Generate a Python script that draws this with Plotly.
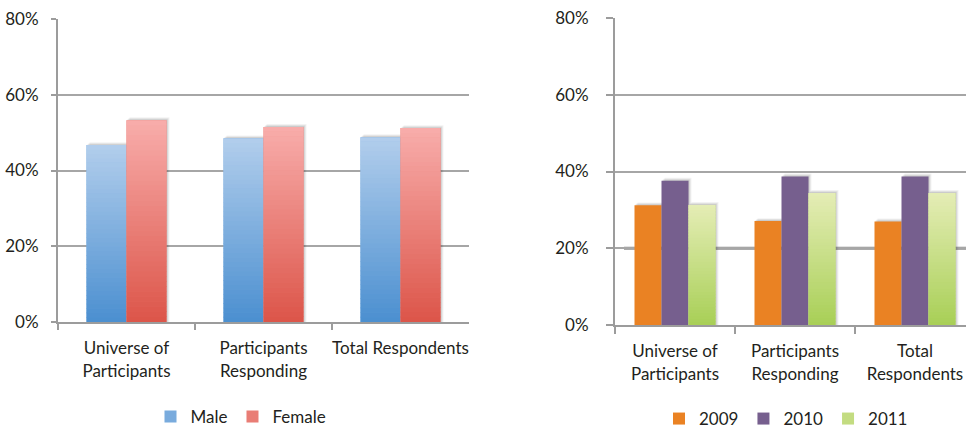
import numpy as np
import plotly.graph_objects as go

# ---- data -------------------------------------------------------------
gender_categories = ["Universe of<br>Participants", "Participants<br>Responding", "Total Respondents"]
male = [46.7, 48.5, 48.8]
female = [53.3, 51.5, 51.2]

year_categories = ["Universe of<br>Participants", "Participants<br>Responding", "Total<br>Respondents"]
y2009 = [31.2, 27.1, 27.0]
y2010 = [37.6, 38.7, 38.7]
y2011 = [31.3, 34.4, 34.4]

y_ticks = [0, 20, 40, 60, 80]
y_tick_labels = ["0%", "20%", "40%", "60%", "80%"]

# ---- styling ----------------------------------------------------------
FONT = "Lato"
TEXT = "#231f20"
AXIS = "#9c9c9c"
GRID = "#a6a6a6"
N_SLICES = 40


def hex_to_rgb(h):
    h = h.lstrip("#")
    return np.array([int(h[i:i + 2], 16) for i in (0, 2, 4)], dtype=float)


def blend(c0, c1, t):
    c = hex_to_rgb(c0) * (1 - t) + hex_to_rgb(c1) * t
    return "rgb({:.0f},{:.0f},{:.0f})".format(*c)


fig = go.Figure()


def drop_shadow(x, values, width, offset, xa, ya, px_per_unit):
    """Soft grey shadow to the right of / above each bar."""
    vals = np.asarray(values, dtype=float)
    for k, alpha in ((3, 0.05), (2, 0.07), (1, 0.09)):
        fig.add_trace(go.Bar(
            x=x, y=vals + 0.25 * k, width=width, offset=offset + k / px_per_unit,
            marker=dict(color=f"rgba(0,0,0,{alpha})", line=dict(width=0)),
            xaxis=xa, yaxis=ya, showlegend=False, hoverinfo="skip",
        ))


def gradient_bar(x, values, name, bottom, top, width, offset, xa, ya, legend):
    """Bar series with a vertical colour gradient, built from stacked slices."""
    vals = np.asarray(values, dtype=float)
    # full-height bar carries the legend entry and hover
    fig.add_trace(go.Bar(
        x=x, y=vals, name=name, width=width, offset=offset,
        marker=dict(color=blend(bottom, top, 0.45), line=dict(width=0)),
        xaxis=xa, yaxis=ya, legend=legend, showlegend=True,
        hovertemplate="%{y:.1f}%<extra>" + name + "</extra>",
    ))
    for i in range(N_SLICES):
        base = vals * i / N_SLICES
        tip = np.minimum(vals * (i + 1) / N_SLICES + 0.15, vals)
        fig.add_trace(go.Bar(
            x=x, y=tip - base, base=base, width=width, offset=offset,
            marker=dict(color=blend(bottom, top, (i + 0.5) / N_SLICES), line=dict(width=0)),
            xaxis=xa, yaxis=ya, showlegend=False, hoverinfo="skip",
        ))


def solid_bar(x, values, name, color, width, offset, xa, ya, legend):
    fig.add_trace(go.Bar(
        x=x, y=values, name=name, width=width, offset=offset,
        marker=dict(color=color, line=dict(width=0)),
        xaxis=xa, yaxis=ya, legend=legend,
        hovertemplate="%{y:.1f}%<extra>" + name + "</extra>",
    ))


# left panel: male / female  (one category = 137 px)
w1 = 0.292
drop_shadow(gender_categories, male, w1, -w1, "x", "y", 137)
drop_shadow(gender_categories, female, w1, 0.0, "x", "y", 137)
gradient_bar(gender_categories, male, "Male", "#4b8fd0", "#b2ceec", w1, -w1, "x", "y", "legend")
gradient_bar(gender_categories, female, "Female", "#dc5549", "#f8adab", w1, 0.0, "x", "y", "legend")

# right panel: survey years  (one category = 120 px)
w2 = 0.225
for vals, off in ((y2009, -1.5 * w2), (y2010, -0.5 * w2), (y2011, 0.5 * w2)):
    drop_shadow(year_categories, vals, w2, off, "x2", "y2", 120)
solid_bar(year_categories, y2009, "2009", "#ea8223", w2, -1.5 * w2, "x2", "y2", "legend2")
solid_bar(year_categories, y2010, "2010", "#765f8e", w2, -0.5 * w2, "x2", "y2", "legend2")
gradient_bar(year_categories, y2011, "2011", "#a8cf56", "#e5edb6", w2, 0.5 * w2, "x2", "y2", "legend2")

# heavier 20% rule on the right panel
fig.add_shape(type="line", xref="x2", yref="y2", x0=-0.425, x1=2.6, y0=20, y1=20,
              line=dict(color="#8e8e8e", width=3), layer="below")

axis_common = dict(
    showline=True, linecolor=AXIS, linewidth=2,
    ticks="outside", tickcolor=AXIS, tickwidth=2, automargin=False,
    tickfont=dict(family=FONT, size=17, color=TEXT),
)

fig.update_layout(
    width=966, height=429,
    margin=dict(l=0, r=0, t=0, b=0, autoexpand=False),
    paper_bgcolor="white", plot_bgcolor="white",
    barmode="overlay",
    font=dict(family=FONT, color=TEXT),
    xaxis=dict(domain=[58 / 966, 469 / 966], anchor="y", tickson="boundaries",
               ticklen=6, showgrid=False, ticklabelstandoff=10, range=[-0.5, 2.5],
               tickangle=0, **axis_common),
    yaxis=dict(domain=[1 - 322 / 429, 1 - 19 / 429], anchor="x", range=[0, 80],
               tickmode="array", tickvals=y_ticks, ticktext=y_tick_labels,
               ticklen=5, ticklabelstandoff=9,
               showgrid=True, gridcolor=GRID, gridwidth=1.5, zeroline=False,
               **axis_common),
    xaxis2=dict(domain=[615 / 966, 1.0], anchor="y2", tickson="boundaries",
                ticklen=7, showgrid=False, ticklabelstandoff=10, range=[-0.5, 2.425],
                tickangle=0, **axis_common),
    yaxis2=dict(domain=[1 - 325 / 429, 1 - 18 / 429], anchor="x2", range=[0, 80],
                tickmode="array", tickvals=y_ticks, ticktext=y_tick_labels,
                ticklen=7, ticklabelstandoff=14,
                showgrid=True, gridcolor=GRID, gridwidth=1.5, zeroline=False,
                **axis_common),
    legend=dict(orientation="h", x=241 / 966, xanchor="center", y=1 - 417 / 429,
                yanchor="middle", font=dict(family=FONT, size=17, color=TEXT),
                bgcolor="rgba(0,0,0,0)", itemclick=False),
    legend2=dict(orientation="h", x=786 / 966, xanchor="center", y=1 - 419 / 429,
                 yanchor="middle", font=dict(family=FONT, size=17, color=TEXT),
                 bgcolor="rgba(0,0,0,0)", itemclick=False),
    showlegend=True,
)

fig.write_html("out.html")
